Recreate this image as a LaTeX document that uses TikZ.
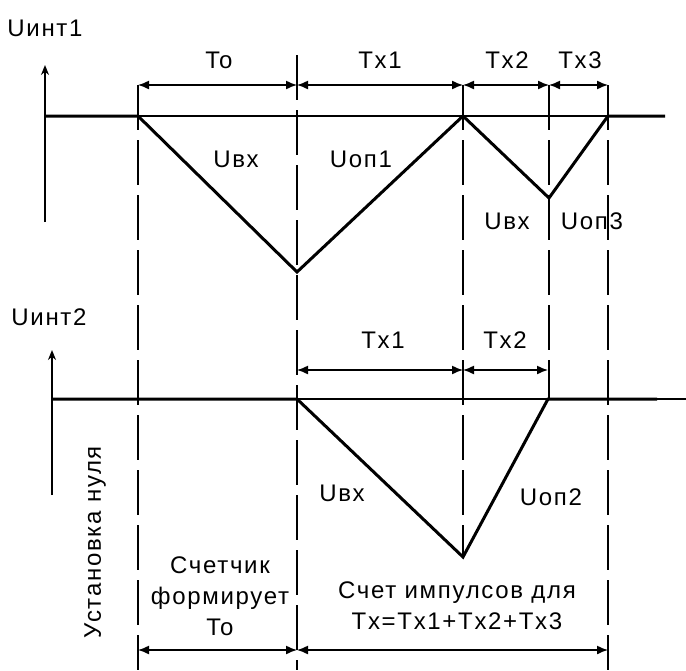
\documentclass[tikz,border=0pt]{standalone}
\usepackage{fontspec}
\setmainfont[LetterSpace=7]{Liberation Sans}
\usetikzlibrary{arrows.meta}

\begin{document}
\begin{tikzpicture}[x=1pt,y=-1pt,
  baseline line/.style={line width=1.4pt},
  wave/.style={line width=3pt, line join=miter},
  guide/.style={line width=1.4pt, dash pattern=on 45pt off 10pt},
  dim/.style={line width=1.4pt,
    {Latex[length=11pt,width=9pt]}-{Latex[length=11pt,width=9pt]}},
  axisline/.style={line width=1.6pt, -{Stealth[length=10pt,width=8pt]}},
  lbl/.style={inner sep=0pt, font=\fontsize{24}{31}\selectfont}
]
\useasboundingbox (0,0) rectangle (686,670);

% ---------- integrator 1 ----------
\coordinate (ax1b) at (45,222);
\coordinate (ax1t) at (45,65);
\coordinate (a1) at (45,116);
\coordinate (s1) at (138,116);
\coordinate (m1) at (297,272);
\coordinate (p1) at (463,116);
\coordinate (m3) at (549,198);
\coordinate (e1) at (608,116);
\coordinate (r1) at (665,116);

% ---------- integrator 2 ----------
\coordinate (ax2b) at (52,495);
\coordinate (ax2t) at (52,350);
\coordinate (a2) at (52,399);
\coordinate (s2) at (297,399);
\coordinate (m2) at (463,557);
\coordinate (e2) at (548,399);
\coordinate (r2) at (657,399);
\coordinate (end2) at (686,399);

% time marks
\coordinate (gB1) at (138,85);  \coordinate (gB2) at (138,670);
\coordinate (gC1) at (297,55);  \coordinate (gC2) at (297,670);
\coordinate (gD1) at (463,85);  \coordinate (gD2) at (463,557);
\coordinate (gE1) at (549,85);  \coordinate (gE2) at (549,399);
\coordinate (gF1) at (608,85);  \coordinate (gF2) at (608,670);

\draw[guide] (gB1) -- (gB2);
\draw[guide] (gC1) -- (gC2);
\draw[guide] (gD1) -- (gD2);
\draw[guide] (gE1) -- (gE2);
\draw[guide] (gF1) -- (gF2);

% axes
\draw[axisline] (ax1b) -- (ax1t);
\draw[axisline] (ax2b) -- (ax2t);

% zero lines
\draw[baseline line] (s1) -- (r1);
\draw[baseline line] (s2) -- (end2);

% integrator outputs
\draw[wave] (a1) -- (s1) -- (m1) -- (p1) -- (m3) -- (e1) -- (r1);
\draw[wave] (a2) -- (s2) -- (m2) -- (e2) -- (r2);

% interval arrows
\coordinate (t0) at (138,85);
\coordinate (t1) at (297,85);
\coordinate (t2) at (463,85);
\coordinate (t3) at (549,85);
\coordinate (t4) at (608,85);
\draw[dim] (t0) -- (t1);
\draw[dim] (t1) -- (t2);
\draw[dim] (t2) -- (t3);
\draw[dim] (t3) -- (t4);

\coordinate (u1) at (297,370);
\coordinate (u2) at (463,370);
\coordinate (u3) at (548,370);
\draw[dim] (u1) -- (u2);
\draw[dim] (u2) -- (u3);

\coordinate (w0) at (138,650);
\coordinate (w1) at (297,650);
\coordinate (w2) at (608,650);
\draw[dim] (w0) -- (w1);
\draw[dim] (w1) -- (w2);

% labels
\node[lbl] (lu1) at (45,28) {Uинт1};
\node[lbl] (lu2) at (49,317) {Uинт2};
\node[lbl] (lto) at (219,60) {To};
\node[lbl] (ltx1) at (380,60) {Tx1};
\node[lbl] (ltx2) at (507,60) {Tx2};
\node[lbl] (ltx3) at (580,60) {Tx3};
\node[lbl] (lvx1) at (236,159) {Uвх};
\node[lbl] (lop1) at (361,159) {Uоп1};
\node[lbl] (lvx2) at (507,221) {Uвх};
\node[lbl] (lop3) at (592,221) {Uоп3};
\node[lbl] (ltx1b) at (383,340) {Tx1};
\node[lbl] (ltx2b) at (505,340) {Tx2};
\node[lbl] (lvx3) at (342,493) {Uвх};
\node[lbl] (lop2) at (551,497) {Uоп2};
\node[lbl, rotate=90] (lzero) at (95,542) {Установка нуля};
\node[lbl, align=center] (lcnt) at (220,596) {Счетчик\\формирует\\To};
\node[lbl, align=center] (lsum) at (457,606) {Счет импулсов для\\Tx=Tx1+Tx2+Tx3};
\end{tikzpicture}
\end{document}
